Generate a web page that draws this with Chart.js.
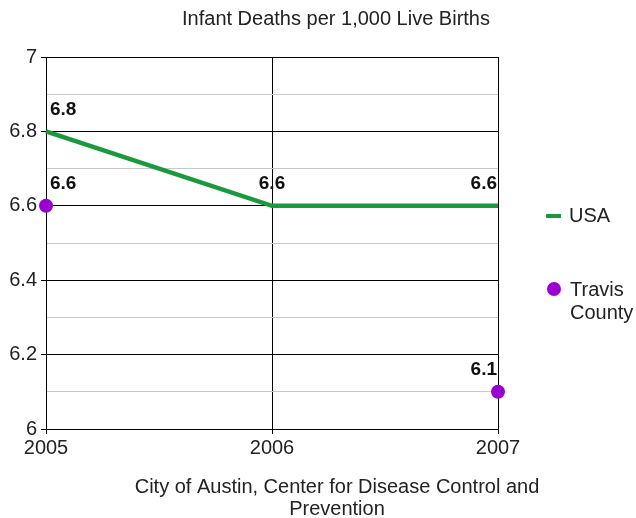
<!DOCTYPE html>
<html>
<head>
<meta charset="utf-8">
<script src="https://cdn.jsdelivr.net/npm/chart.js@4/dist/chart.umd.min.js"></script>
<style>
  html, body { margin: 0; padding: 0; background: #fff; }
  #wrap { width: 636px; height: 518px; }
</style>
</head>
<body>
<div id="wrap"><canvas id="lineChart" width="636" height="518"></canvas></div>
<script>
  // data
  var years = ['2005', '2006', '2007'];
  var usa = [6.8, 6.6, 6.6];
  var travis = [6.6, null, 6.1];
  var chartTitle = 'Infant Deaths per 1,000 Live Births';
  var sourceLines = ['City of Austin, Center for Disease Control and', 'Prevention'];

  var green = '#1a9a3c';
  var purple = '#9b00d3';
  var font = "'Liberation Sans', Arial, sans-serif";

  // value labels above each point
  var valueLabels = {
    id: 'valueLabels',
    afterDatasetsDraw: function(chart) {
      var ctx = chart.ctx;
      ctx.save();
      ctx.font = 'bold 19px ' + font;
      ctx.fillStyle = '#111';
      ctx.textBaseline = 'middle';
      chart.data.datasets.forEach(function(ds, di) {
        chart.getDatasetMeta(di).data.forEach(function(pt, i) {
          var v = ds.data[i];
          if (v === null) return;
          var x = pt.x;
          if (i === 0) { ctx.textAlign = 'left'; x += 4; }
          else if (i === ds.data.length - 1) { ctx.textAlign = 'right'; x -= 1; }
          else { ctx.textAlign = 'center'; }
          ctx.fillText(v.toFixed(1), x, pt.y - 22);
        });
      });
      ctx.restore();
    }
  };

  // title, source note and legend on the right
  var extras = {
    id: 'extras',
    afterDraw: function(chart) {
      var ctx = chart.ctx;
      ctx.save();
      ctx.fillStyle = '#222';
      ctx.textAlign = 'center';
      ctx.textBaseline = 'middle';
      ctx.font = '20px ' + font;
      ctx.fillText(chartTitle, 336, 19);
      ctx.font = '20px ' + font;
      ctx.fillText(sourceLines[0], 337, 487);
      ctx.fillText(sourceLines[1], 337, 509);

      // legend
      ctx.textAlign = 'left';
      ctx.font = '20px ' + font;
      ctx.strokeStyle = green;
      ctx.lineWidth = 4;
      ctx.beginPath();
      ctx.moveTo(546, 216);
      ctx.lineTo(561, 216);
      ctx.stroke();
      ctx.fillText('USA', 569, 216);

      ctx.fillStyle = purple;
      ctx.beginPath();
      ctx.arc(554, 289, 7, 0, Math.PI * 2);
      ctx.fill();
      ctx.fillStyle = '#222';
      ctx.fillText('Travis', 570, 290);
      ctx.fillText('County', 570, 313);
      ctx.restore();
    }
  };

  var ctx = document.getElementById('lineChart').getContext('2d');
  var lineChart = new Chart(ctx, {
    type: 'line',
    data: {
      labels: years,
      datasets: [{
        label: 'USA',
        data: usa,
        borderColor: green,
        backgroundColor: green,
        borderWidth: 4.5,
        pointRadius: 0,
        tension: 0
      }, {
        label: 'Travis County',
        data: travis,
        showLine: false,
        borderColor: purple,
        backgroundColor: purple,
        pointRadius: 7,
        pointBorderWidth: 0
      }]
    },
    options: {
      responsive: false,
      animation: false,
      layout: { padding: { top: 57, right: 138, left: 0, bottom: 0 } },
      plugins: {
        legend: { display: false },
        title: { display: false },
        tooltip: { enabled: false }
      },
      scales: {
        x: {
          offset: false,
          afterFit: function(scale) { scale.height = 89; },
          grid: { color: '#000', lineWidth: 1, tickLength: 5, tickColor: '#000' },
          border: { color: '#000' },
          ticks: { color: '#222', font: { family: font, size: 20 }, padding: 2, maxRotation: 0 }
        },
        y: {
          min: 6,
          max: 7,
          afterFit: function(scale) { scale.width = 46; },
          grid: {
            lineWidth: 1,
            tickLength: 5,
            color: function(c) { return Math.round(c.tick.value * 10) % 2 === 0 ? '#000' : '#c8c8c8'; },
            tickColor: function(c) { return Math.round(c.tick.value * 10) % 2 === 0 ? '#000' : 'rgba(0,0,0,0)'; }
          },
          border: { color: '#000' },
          ticks: {
            stepSize: 0.1,
            color: '#222',
            font: { family: font, size: 20 },
            padding: 4,
            callback: function(v) {
              var t = Math.round(v * 10);
              return t % 2 === 0 ? String(t / 10) : '';
            }
          }
        }
      }
    },
    plugins: [valueLabels, extras]
  });
</script>
</body>
</html>
